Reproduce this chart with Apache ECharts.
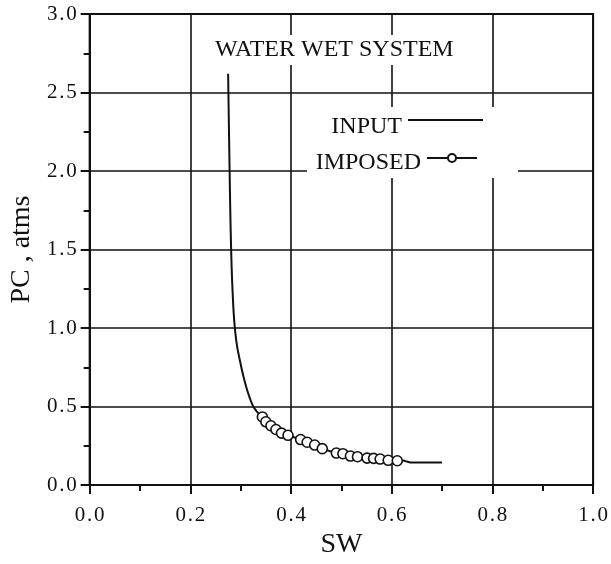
<!DOCTYPE html>
<html>
<head>
<meta charset="utf-8">
<script src="https://cdn.jsdelivr.net/npm/echarts@6/dist/echarts.min.js"></script>
<style>
  html, body { margin: 0; padding: 0; background: #fff; }
  #chart { width: 611px; height: 564px; }
</style>
</head>
<body>
<div id="chart"></div>
<script>
// Capillary pressure curve (input) and the imposed points along it
const inputSw = [0.275, 0.277, 0.279, 0.281, 0.283, 0.286, 0.289, 0.293, 0.298, 0.304, 0.311, 0.318, 0.325, 0.333,
                 0.343, 0.350, 0.360, 0.370, 0.381, 0.394, 0.419, 0.432, 0.447, 0.462, 0.490, 0.503, 0.518, 0.532,
                 0.551, 0.564, 0.577, 0.593, 0.611, 0.622, 0.630, 0.640, 0.700];
const inputPc = [2.62, 2.20, 1.80, 1.50, 1.30, 1.10, 0.98, 0.88, 0.80, 0.71, 0.625, 0.555, 0.50, 0.465,
                 0.434, 0.403, 0.378, 0.354, 0.331, 0.317, 0.290, 0.273, 0.255, 0.232, 0.204, 0.200, 0.185, 0.181,
                 0.172, 0.170, 0.166, 0.158, 0.155, 0.156, 0.150, 0.144, 0.144];

const imposedSw = [0.343, 0.350, 0.360, 0.370, 0.381, 0.394, 0.419, 0.432, 0.447, 0.462, 0.490, 0.503, 0.518,
                   0.532, 0.551, 0.564, 0.577, 0.593, 0.611];
const imposedPc = [0.434, 0.403, 0.378, 0.354, 0.331, 0.317, 0.290, 0.273, 0.255, 0.232, 0.204, 0.200, 0.185,
                   0.181, 0.172, 0.170, 0.166, 0.158, 0.155];

const xTickLabels = ['0.0', '0.2', '0.4', '0.6', '0.8', '1.0'];
const yTickLabels = ['0.0', '0.5', '1.0', '1.5', '2.0', '2.5', '3.0'];

const FONT = "'Liberation Serif', 'Times New Roman', serif";
const INK = '#111';
const HAIR = '\u200A';

const pair = (xs, ys) => xs.map((x, i) => [x, ys[i]]);
// typewriter-like spacing around the decimal point
const spaced = s => s.replace('.', HAIR + '.' + HAIR);

const chart = echarts.init(document.getElementById('chart'), null, { renderer: 'canvas' });

const axisCommon = {
  type: 'value',
  axisLine: { show: true, onZero: false, lineStyle: { color: INK, width: 2 } },
  axisTick: { show: true, inside: false, length: 9, lineStyle: { color: INK, width: 2 } },
  minorTick: { show: true, splitNumber: 2, length: 6, lineStyle: { color: INK, width: 2 } },
  splitLine: { show: true, lineStyle: { color: INK, width: 1.6 } },
  minorSplitLine: { show: false }
};

const legendText = (pad) => ({
  fontFamily: FONT, fontSize: 24, color: INK,
  rich: { t: { fontFamily: FONT, fontSize: 24, color: INK, padding: [pad, 1, 0, 0] } }
});

chart.setOption({
  animation: false,
  backgroundColor: '#fff',
  grid: { left: 87, right: 16, top: 14, bottom: 67, show: true, borderColor: INK, borderWidth: 2 },
  title: {
    text: 'WATER WET SYSTEM',
    left: 207, top: 35,
    padding: [3, 8],
    backgroundColor: '#fff',
    textStyle: { fontFamily: FONT, fontSize: 24, fontWeight: 'normal', color: INK }
  },
  legend: [
    {
      data: [{ name: 'INPUT', icon: 'rect' }],
      right: 128, top: 115, padding: 0,
      align: 'right', itemWidth: 75, itemHeight: 2,
      selectedMode: false,
      itemStyle: { color: INK },
      formatter: n => '{t|' + n + '}',
      textStyle: legendText(14)
    },
    {
      data: ['IMPOSED'],
      right: 133, top: 151, padding: 0,
      align: 'right', itemWidth: 50, itemHeight: 10,
      selectedMode: false,
      lineStyle: { width: 2, color: INK },
      formatter: n => '{t|' + n + '}',
      textStyle: legendText(10)
    }
  ],
  graphic: [
    { type: 'rect', z: 1, shape: { x: 307, y: 107, width: 211, height: 71 }, style: { fill: '#fff' } }
  ],
  xAxis: Object.assign({}, axisCommon, {
    min: 0, max: 1, interval: 0.2,
    name: 'SW', nameLocation: 'middle', nameGap: 38,
    nameTextStyle: { fontFamily: FONT, fontSize: 28, color: INK },
    axisLabel: {
      margin: 20, fontFamily: FONT, fontSize: 21, color: INK,
      formatter: v => spaced(xTickLabels[Math.round(v / 0.2)])
    }
  }),
  yAxis: Object.assign({}, axisCommon, {
    min: 0, max: 3, interval: 0.5,
    name: 'PC , atms', nameLocation: 'middle', nameGap: 52, nameRotate: 90,
    nameTextStyle: { fontFamily: FONT, fontSize: 28, color: INK },
    axisLabel: {
      margin: 13, fontFamily: FONT, fontSize: 21, color: INK,
      formatter: v => spaced(yTickLabels[Math.round(v / 0.5)])
    }
  }),
  series: [
    {
      name: 'INPUT', type: 'line', z: 2,
      data: pair(inputSw, inputPc),
      symbol: 'none', showSymbol: false, smooth: 0.35,
      lineStyle: { color: INK, width: 2 },
      itemStyle: { color: INK }
    },
    {
      name: 'IMPOSED', type: 'line', z: 3,
      data: pair(imposedSw, imposedPc),
      symbol: 'circle', symbolSize: 10, showSymbol: true,
      lineStyle: { color: INK, width: 0 },
      itemStyle: { color: '#fff', borderColor: INK, borderWidth: 1.6 }
    }
  ]
});
</script>
</body>
</html>
